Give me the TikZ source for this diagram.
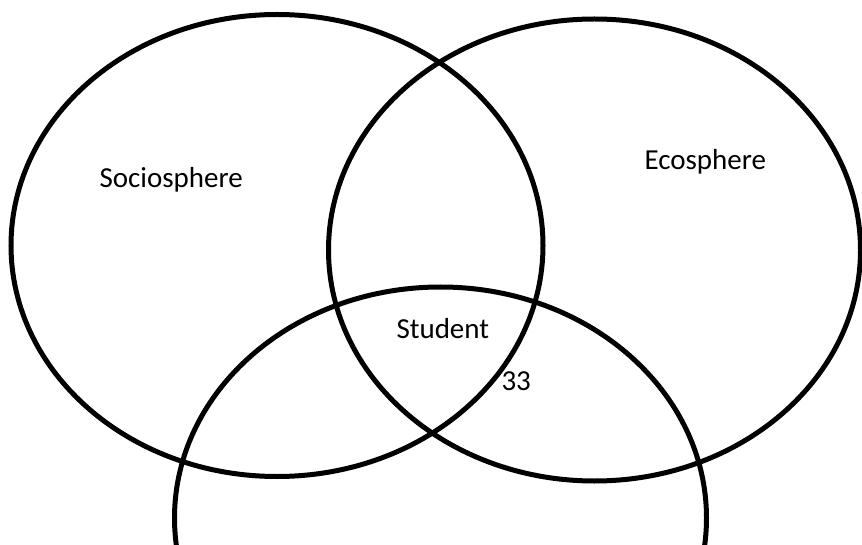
\documentclass[tikz,border=0pt]{standalone}
\usepackage{fontspec}
\setmainfont{Carlito}
\usetikzlibrary{shapes.geometric}
\begin{document}
\begin{tikzpicture}[x=1pt,y=-1pt,line width=5pt,draw=black]
	\tikzstyle{sphere}=[ellipse,draw=black,line width=5pt,minimum width=532pt,minimum height=462pt,inner sep=0pt] % one circle of the diagram
	\tikzstyle{lbl}=[anchor=base west,inner sep=0pt,text=black,font=\fontsize{29}{35}\selectfont] % labels
	\useasboundingbox (0,0) rectangle (862,545);
	\clip (0,0) rectangle (862,545);
	\node(socio)[sphere] at (277,245.5) {};
	\node(eco)[sphere] at (594.5,250) {};
	\node(stud)[sphere] at (440.5,518) {};
	\node(sociotxt)[lbl] at (97,188) {Sociosphere};
	\node(ecotxt)[lbl] at (642,170) {Ecosphere};
	\node(studtxt)[lbl] at (394,338) {Student};
	\node(page)[lbl] at (499,390) {33};
\end{tikzpicture}
\end{document}
